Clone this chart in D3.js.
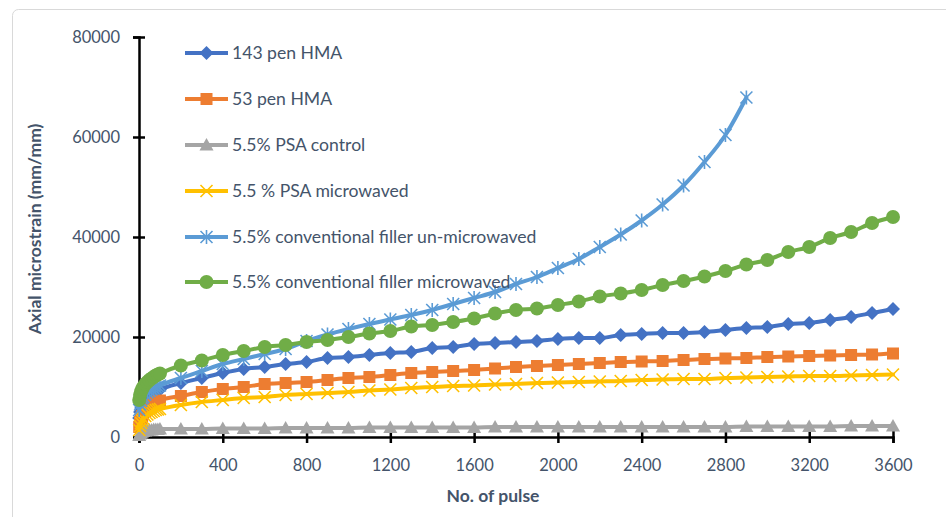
<!DOCTYPE html>
<html><head><meta charset="utf-8">
<script src="https://cdn.jsdelivr.net/npm/d3@7"></script>
<style>
html,body{margin:0;padding:0;background:#fff;}
svg{display:block;font-family:Lato, "Open Sans", sans-serif;}
</style></head>
<body>
<svg id="chart" width="946" height="517"></svg>
<script>
const pulses = [1,5,10,15,20,30,40,50,60,70,80,90,100,
  200,300,400,500,600,700,800,900,1000,1100,1200,1300,1400,1500,1600,1700,1800,1900,2000,
  2100,2200,2300,2400,2500,2600,2700,2800,2900,3000,3100,3200,3300,3400,3500,3600];

const pen143 = [3800,5000,5800,6400,6800,7400,7900,8300,8600,8900,9100,9300,9500,
  10800,11800,12800,13600,14000,14600,15000,15800,16000,16400,16800,17000,17800,18000,18600,18800,19000,19200,19600,
  19800,19800,20400,20600,20800,20800,21000,21400,21800,22000,22600,22800,23400,24000,24800,25600];
const pen53 = [2000,3000,3700,4200,4600,5200,5700,6100,6400,6700,6900,7100,7300,
  8200,9000,9600,10000,10600,10800,11000,11400,11800,12000,12400,12800,13000,13200,13400,13700,14000,14200,14400,
  14600,14800,15000,15100,15200,15400,15600,15700,15800,16000,16100,16200,16300,16400,16500,16700];
const psaControl = [300,600,800,1000,1100,1200,1300,1400,1400,1500,1500,1500,1600,
  1600,1600,1700,1700,1700,1800,1800,1800,1800,1900,1900,1900,1900,1900,1900,2000,2000,2000,2000,
  2000,2000,2000,2000,2000,2000,2000,2000,2100,2100,2100,2100,2100,2200,2200,2200];
const psaMicro = [1400,2200,2800,3300,3700,4200,4500,4800,5000,5200,5400,5500,5600,
  6400,7000,7400,7800,8000,8400,8600,8800,9000,9300,9500,9800,10000,10200,10300,10500,10600,10800,10900,
  11000,11100,11200,11400,11500,11600,11600,11800,11900,12000,12100,12200,12200,12300,12400,12500];
const fillerUnMicro = [5400,6500,7200,7700,8000,8500,8900,9200,9500,9700,9900,10100,10300,
  11800,13200,14600,15600,16600,17600,19200,20500,21600,22600,23500,24400,25400,26600,27800,29000,30600,32000,33800,
  35600,38000,40500,43300,46500,50300,55000,60400,67900];
const fillerMicro = [7400,8400,9100,9600,10000,10600,11000,11400,11700,12000,12300,12500,12700,
  14300,15300,16400,17200,18000,18400,19000,19400,20000,20700,21200,22100,22400,23000,23700,24700,25400,25700,26400,
  27100,28100,28700,29400,30400,31200,32100,33200,34500,35400,37000,38000,39800,41000,42800,44000];

const seriesNames = ["143 pen HMA","53 pen HMA","5.5% PSA control","5.5 % PSA microwaved",
  "5.5% conventional filler un-microwaved","5.5% conventional filler microwaved"];
const seriesValues = [pen143, pen53, psaControl, psaMicro, fillerUnMicro, fillerMicro];
const seriesColors = ["#4472C4","#ED7D31","#A5A5A5","#FFC000","#5B9BD5","#70AD47"];
const seriesMarkers = ["diamond","square","triangle","x","star","circle"];

const xTicks = [0,400,800,1200,1600,2000,2400,2800,3200,3600];
const yTicks = [0,20000,40000,60000,80000];

const svg = d3.select("#chart");
const textColor = "#44546A";

svg.append("rect").attr("x",12.5).attr("y",9.5).attr("width",960).attr("height",540)
  .attr("rx",6).attr("fill","#fff").attr("stroke","#D9D9D9").attr("stroke-width",1);

const x = d3.scaleLinear().domain([0,3600]).range([139,893]);
const y = d3.scaleLinear().domain([0,80000]).range([437,37]);

// axes
const yAxis = svg.append("g").attr("transform","translate(139,0)")
  .call(d3.axisLeft(y).tickValues(yTicks).tickFormat(d3.format("d")).tickSize(6).tickPadding(13));
yAxis.select(".domain").attr("stroke","#000").attr("stroke-width",2.5);
yAxis.selectAll(".tick line").attr("x1",6).attr("stroke","#000").attr("stroke-width",2.5);
yAxis.selectAll(".tick text").attr("fill",textColor).style("font-size","16.5px").style("font-family","Lato");

const xAxis = svg.append("g").attr("transform","translate(0,437)")
  .call(d3.axisBottom(x).tickValues(xTicks).tickFormat(d3.format("d")).tickSize(6).tickPadding(16));
xAxis.select(".domain").attr("stroke","#000").attr("stroke-width",2.5);
xAxis.selectAll(".tick line").attr("y1",-6).attr("stroke","#000").attr("stroke-width",2.5);
xAxis.selectAll(".tick text").attr("fill",textColor).style("font-size","16.5px").style("font-family","Lato");

svg.append("text").attr("x",493).attr("y",502).attr("text-anchor","middle")
  .attr("fill",textColor).style("font-size","17.5px").style("font-weight","bold").text("No. of pulse");
svg.append("text").attr("transform","translate(41,229) rotate(-90)").attr("text-anchor","middle")
  .attr("fill",textColor).style("font-size","17.5px").style("font-weight","bold").text("Axial microstrain (mm/mm)");

function drawMarker(g, type, color, cx, cy) {
  if (type === "diamond") {
    g.append("path").attr("d",`M${cx},${cy-7}L${cx+7},${cy}L${cx},${cy+7}L${cx-7},${cy}Z`).attr("fill",color);
  } else if (type === "square") {
    g.append("rect").attr("x",cx-6).attr("y",cy-6).attr("width",12).attr("height",12).attr("fill",color);
  } else if (type === "triangle") {
    g.append("path").attr("d",`M${cx},${cy-7}L${cx+7},${cy+5.5}L${cx-7},${cy+5.5}Z`).attr("fill",color);
  } else if (type === "x") {
    g.append("path").attr("d",`M${cx-6},${cy-6}L${cx+6},${cy+6}M${cx-6},${cy+6}L${cx+6},${cy-6}`)
      .attr("stroke",color).attr("stroke-width",1.6).attr("fill","none");
  } else if (type === "star") {
    g.append("path").attr("d",`M${cx-6},${cy-6}L${cx+6},${cy+6}M${cx-6},${cy+6}L${cx+6},${cy-6}M${cx},${cy-7}L${cx},${cy+7}`)
      .attr("stroke",color).attr("stroke-width",1.6).attr("fill","none");
  } else {
    g.append("circle").attr("cx",cx).attr("cy",cy).attr("r",7).attr("fill",color);
  }
}

const line = d3.line().x(d=>x(d[0])).y(d=>y(d[1])).curve(d3.curveMonotoneX);
const plot = svg.append("g");
seriesValues.forEach((vals,i)=>{
  const pts = vals.map((v,j)=>[pulses[j], v]);
  const g = plot.append("g");
  g.append("path").attr("d",line(pts)).attr("fill","none").attr("stroke",seriesColors[i])
    .attr("stroke-width",4).attr("stroke-linejoin","round").attr("stroke-linecap","round");
  pts.forEach(p=>drawMarker(g, seriesMarkers[i], seriesColors[i], x(p[0]), y(p[1])));
});

// legend
const legendY = [53,99,145,191,237,282];
seriesNames.forEach((name,i)=>{
  const g = svg.append("g");
  g.append("line").attr("x1",185).attr("x2",228).attr("y1",legendY[i]).attr("y2",legendY[i])
    .attr("stroke",seriesColors[i]).attr("stroke-width",4);
  drawMarker(g, seriesMarkers[i], seriesColors[i], 206.5, legendY[i]);
  g.append("text").attr("x",232).attr("y",legendY[i]+6).attr("fill",textColor)
    .style("font-size","17.6px").text(name);
});
</script>
</body></html>
